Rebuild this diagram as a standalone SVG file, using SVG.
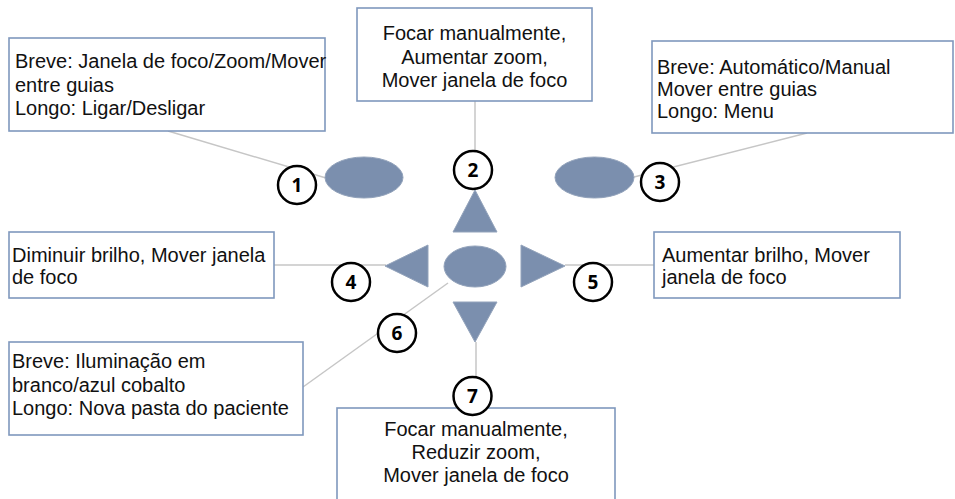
<svg xmlns="http://www.w3.org/2000/svg" width="955" height="499" viewBox="0 0 955 499">
<style>
.box{fill:#fff;stroke:#7f98bd;stroke-width:1.6}
.t{font-family:"Liberation Sans",Arial,sans-serif;font-size:20px;fill:#111}
.c{text-anchor:middle}
.shape{fill:#7b8fae;stroke:#93a3bb;stroke-width:1}
.conn{stroke:#c6c6c6;stroke-width:1.5;fill:none}
.num{fill:#fff;stroke:#000;stroke-width:2.5}
.nt{font-family:"Open Sans","Liberation Sans",Arial,sans-serif;font-size:19px;font-weight:bold;text-anchor:middle;fill:#000}
</style>
<rect width="955" height="499" fill="#fff"/>
<g id="connectors">
<line class="conn" x1="168" y1="131" x2="326" y2="178"/>
<line class="conn" x1="475" y1="101" x2="475" y2="190"/>
<line class="conn" x1="807" y1="133" x2="634" y2="177"/>
<line class="conn" x1="274" y1="265" x2="386" y2="265"/>
<line class="conn" x1="565" y1="265" x2="654" y2="265"/>
<line class="conn" x1="448" y1="283" x2="303" y2="387"/>
<line class="conn" x1="476" y1="342" x2="476" y2="408"/>
</g>
<g id="ctrl-ellipse-1"><ellipse class="shape" cx="364" cy="177.5" rx="39" ry="20.5"/></g>
<g id="ctrl-ellipse-3"><ellipse class="shape" cx="594.5" cy="177.5" rx="39.5" ry="20.5"/></g>
<g id="ctrl-up"><polygon class="shape" points="475,190 497,232 453,232"/></g>
<g id="ctrl-left"><polygon class="shape" points="385,266 428,245 428,287"/></g>
<g id="ctrl-center"><ellipse class="shape" cx="475" cy="266.5" rx="31" ry="20.5"/></g>
<g id="ctrl-right"><polygon class="shape" points="565,266 521,245 521,287"/></g>
<g id="ctrl-down"><polygon class="shape" points="453,302 497,302 475,342"/></g>

<g id="box1">
<rect class="box" x="9" y="38" width="316" height="93"/>
<text class="t" x="15" y="68">Breve: Janela de foco/Zoom/Mover</text>
<text class="t" x="15" y="91.5">entre guias</text>
<text class="t" x="15" y="115">Longo: Ligar/Desligar</text>
</g>
<g id="box2">
<rect class="box" x="357" y="8" width="235" height="93"/>
<text class="t c" x="474.5" y="40">Focar manualmente,</text>
<text class="t c" x="474.5" y="63.5">Aumentar zoom,</text>
<text class="t c" x="474.5" y="87">Mover janela de foco</text>
</g>
<g id="box3">
<rect class="box" x="652" y="41" width="301" height="92"/>
<text class="t" x="657" y="74">Breve: Automático/Manual</text>
<text class="t" x="657" y="96">Mover entre guias</text>
<text class="t" x="657" y="118">Longo: Menu</text>
</g>
<g id="box4">
<rect class="box" x="9" y="232" width="265" height="66"/>
<text class="t" x="12" y="262">Diminuir brilho, Mover janela</text>
<text class="t" x="12" y="284">de foco</text>
</g>
<g id="box5">
<rect class="box" x="654" y="232" width="246" height="66"/>
<text class="t" x="662" y="262">Aumentar brilho, Mover</text>
<text class="t" x="662" y="284">janela de foco</text>
</g>
<g id="box6">
<rect class="box" x="9" y="342" width="294" height="93"/>
<text class="t" x="12" y="368">Breve: Iluminação em</text>
<text class="t" x="12" y="392">branco/azul cobalto</text>
<text class="t" x="12" y="415">Longo: Nova pasta do paciente</text>
</g>
<g id="box7">
<rect class="box" x="337" y="408" width="278" height="100"/>
<text class="t c" x="476" y="436">Focar manualmente,</text>
<text class="t c" x="476" y="458.5">Reduzir zoom,</text>
<text class="t c" x="476" y="481.5">Mover janela de foco</text>
</g>

<g id="num1"><circle class="num" cx="297" cy="185" r="19"/><text class="nt" x="297" y="192">1</text></g>
<g id="num2"><circle class="num" cx="473" cy="170" r="19"/><text class="nt" x="473" y="177">2</text></g>
<g id="num3"><circle class="num" cx="660" cy="182" r="19"/><text class="nt" x="660" y="189">3</text></g>
<g id="num4"><circle class="num" cx="351" cy="282" r="19"/><text class="nt" x="351" y="289">4</text></g>
<g id="num5"><circle class="num" cx="593" cy="282" r="19"/><text class="nt" x="593" y="289">5</text></g>
<g id="num6"><circle class="num" cx="397" cy="333" r="19"/><text class="nt" x="397" y="340">6</text></g>
<g id="num7"><circle class="num" cx="472.5" cy="396" r="19"/><text class="nt" x="472.5" y="403">7</text></g>
</svg>
